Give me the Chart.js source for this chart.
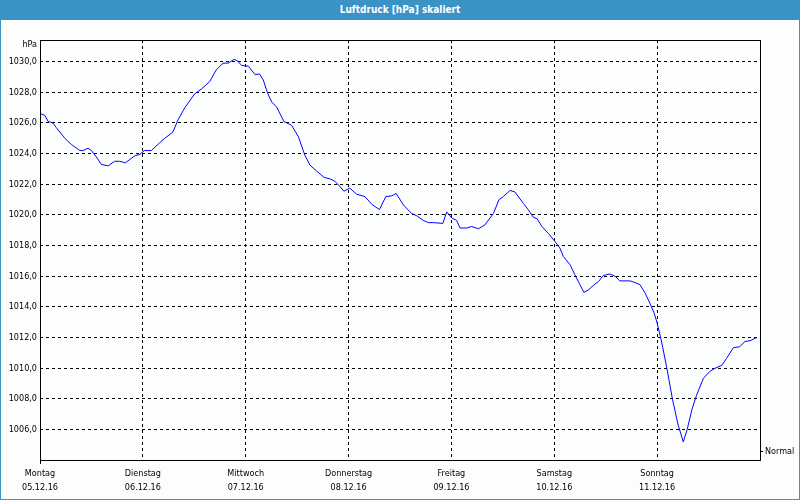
<!DOCTYPE html>
<html>
<head>
<meta charset="utf-8">
<title>Luftdruck [hPa] skaliert</title>
<script src="https://cdn.jsdelivr.net/npm/chart.js@4.4.1/dist/chart.umd.min.js"></script>
<style>
  html, body { margin: 0; padding: 0; background: #fcfefe; }
  #frame { position: relative; width: 800px; height: 500px; overflow: hidden; background: #fcfefe; }
  #pressureChart { position: absolute; left: 0; top: 0; }
  #titleBar {
    position: absolute; left: 0; top: 0; width: 800px; height: 20px;
    background: #3b92c5;
  }
  #titleText {
    position: absolute; left: 0; top: 4px; width: 800px; text-align: center;
    color: #fff; line-height: 12px;
    font: bold 10px "DejaVu Sans Condensed", "DejaVu Sans", sans-serif;
  }
  #edge {
    position: absolute; left: 0; top: 0; width: 800px; height: 500px;
    box-sizing: border-box; border: 1px solid #3b92c5; pointer-events: none;
  }
</style>
</head>
<body>
<div id="frame">
  <canvas id="pressureChart" width="800" height="500"></canvas>
  <div id="titleBar"><div id="titleText">Luftdruck [hPa] skaliert</div></div>
  <div id="edge"></div>
</div>
<script>
// --- Data (hours since Monday 00:00, pressure in hPa) ---
const hours = [
  0.2, 1.1, 1.9, 3.0, 3.8, 5.8, 7.3, 9.3, 10.0, 11.2, 12.0, 13.1, 14.3, 15.9,
  17.4, 18.6, 19.9, 22.1, 23.3, 24.4, 26.0, 27.9, 29.1, 31.0, 32.2, 33.8, 36.1,
  37.6, 39.6, 41.1, 42.7, 43.9, 45.3, 46.0, 47.1, 48.6, 50.2, 51.2, 52.1, 53.1,
  54.1, 55.2, 56.9, 58.7, 60.3, 61.8, 63.0, 64.6, 66.3, 67.7, 68.8, 70.0, 70.9,
  72.3, 73.9, 75.8, 77.4, 79.2, 80.7, 82.1, 83.1, 84.8, 86.7, 87.9, 89.4, 90.6,
  91.8, 94.0, 94.9, 96.1, 97.2, 98.0, 99.6, 100.7, 102.3, 103.8, 105.8, 107.1,
  108.1, 109.7, 110.8, 112.8, 113.9, 115.1, 116.0, 117.1, 118.6, 120.2, 121.3,
  122.1, 123.7, 124.8, 126.0, 126.9, 127.9, 129.5, 130.3, 131.4, 133.0, 134.2,
  135.3, 137.7, 138.8, 140.0, 141.2, 142.3, 143.3, 144.0, 145.1, 146.2, 147.6,
  148.9, 150.1, 151.0, 152.1, 153.2, 154.8, 156.3, 157.5, 159.1, 160.2, 161.8,
  163.2, 164.5, 165.7, 167.2
];
const pressure = [
  1026.6, 1026.5, 1026.1, 1026.0, 1025.7, 1025.0, 1024.6, 1024.2, 1024.2, 1024.35, 1024.2, 1023.8, 1023.3, 1023.2,
  1023.5, 1023.5, 1023.4, 1023.85, 1023.95, 1024.2, 1024.2, 1024.7, 1025.0, 1025.4, 1026.2, 1027.0, 1027.9,
  1028.2, 1028.7, 1029.45, 1029.9, 1029.9, 1030.15, 1030.05, 1029.75, 1029.7, 1029.15, 1029.2, 1028.8, 1027.95,
  1027.35, 1027.05, 1026.1, 1025.85, 1025.1, 1023.9, 1023.25, 1022.85, 1022.45, 1022.35, 1022.2, 1021.85, 1021.55,
  1021.75, 1021.35, 1021.2, 1020.7, 1020.35, 1021.2, 1021.25, 1021.4, 1020.65, 1020.1, 1019.95, 1019.65, 1019.5,
  1019.5, 1019.45, 1020.2, 1019.8, 1019.65, 1019.15, 1019.15, 1019.25, 1019.1, 1019.35, 1020.1, 1021.0,
  1021.2, 1021.6, 1021.5, 1020.75, 1020.35, 1019.85, 1019.75, 1019.25, 1018.8, 1018.25, 1017.85,
  1017.3, 1016.75, 1016.1, 1015.45, 1014.95, 1015.1, 1015.5, 1015.65, 1016.05, 1016.15, 1016.0,
  1015.7, 1015.7, 1015.6, 1015.45, 1014.9, 1014.25, 1013.6, 1012.95, 1011.65, 1010.1, 1007.95,
  1006.3, 1005.2, 1006.0, 1007.3, 1008.25, 1009.35, 1009.8, 1010.0, 1010.2, 1010.65, 1011.35,
  1011.4, 1011.75, 1011.8, 1012.0
];

// --- Axis labels ---
const dayHours = [0, 24, 48, 72, 96, 120, 144];
const dayNames = ["Montag", "Dienstag", "Mittwoch", "Donnerstag", "Freitag", "Samstag", "Sonntag"];
const dayDates = ["05.12.16", "06.12.16", "07.12.16", "08.12.16", "09.12.16", "10.12.16", "11.12.16"];
const yTicks = [1006, 1008, 1010, 1012, 1014, 1016, 1018, 1020, 1022, 1024, 1026, 1028, 1030];
const yUnit = "hPa";
const normalLevel = [1004.55];
const normalLabel = "Normal";

const Y_MIN = 1004.02;
const Y_MAX = 1031.41;
const FONT = '"DejaVu Sans Condensed", "DejaVu Sans", sans-serif';

// --- Frame + unit label ---
const framePlugin = {
  id: "frame",
  afterDraw(chart) {
    const { ctx, chartArea: a } = chart;
    ctx.save();
    ctx.strokeStyle = "#000";
    ctx.lineWidth = 1;
    ctx.strokeRect(a.left + 0.5, a.top + 0.5, a.right - a.left, a.bottom - a.top);
    // small tick under the first day
    ctx.beginPath();
    ctx.moveTo(a.left + 0.5, a.bottom);
    ctx.lineTo(a.left + 0.5, a.bottom + 4);
    ctx.stroke();
    ctx.fillStyle = "#000";
    ctx.font = "9px " + FONT;
    ctx.textAlign = "right";
    ctx.textBaseline = "middle";
    ctx.fillText(yUnit, a.left - 3, a.top + 5);
    ctx.restore();
  }
};

Chart.defaults.color = "#000";
Chart.defaults.font.family = FONT;

const points = hours.map((h, i) => ({ x: h, y: pressure[i] }));

new Chart(document.getElementById("pressureChart"), {
  type: "line",
  data: {
    datasets: [
      {
        data: points,
        borderColor: "#0000ff",
        borderWidth: 1,
        pointRadius: 0,
        tension: 0,
        fill: false
      }
    ]
  },
  options: {
    responsive: false,
    animation: false,
    layout: { padding: { top: 40, left: 0, right: 0, bottom: 0 } },
    plugins: { legend: { display: false }, tooltip: { enabled: false } },
    scales: {
      x: {
        type: "linear",
        min: 0,
        max: 168,
        afterBuildTicks: (s) => { s.ticks = dayHours.map((v) => ({ value: v })); },
        afterFit: (s) => { s.height = 40; },
        ticks: {
          autoSkip: false,
          maxRotation: 0,
          padding: 7,
          font: { size: 9, lineHeight: "14px" },
          callback: (v) => {
            const i = dayHours.indexOf(v);
            return i < 0 ? "" : [dayNames[i], dayDates[i]];
          }
        },
        grid: { color: "#000", lineWidth: 1, drawTicks: false },
        border: { display: false, dash: [3, 3] }
      },
      y: {
        position: "left",
        min: Y_MIN,
        max: Y_MAX,
        afterBuildTicks: (s) => { s.ticks = yTicks.map((v) => ({ value: v })); },
        afterFit: (s) => { s.width = 40; },
        ticks: {
          padding: 3,
          font: { size: 9 },
          callback: (v) => v.toFixed(1).replace(".", ",")
        },
        grid: { color: "#000", lineWidth: 1, drawTicks: false },
        border: { display: false, dash: [3, 3] }
      },
      yNormal: {
        position: "right",
        min: Y_MIN,
        max: Y_MAX,
        afterBuildTicks: (s) => { s.ticks = normalLevel.map((v) => ({ value: v })); },
        afterFit: (s) => { s.width = 40; },
        ticks: {
          padding: 2,
          font: { size: 9 },
          callback: () => normalLabel
        },
        grid: {
          drawOnChartArea: false,
          drawTicks: true,
          tickLength: 3,
          tickColor: "#000",
          tickBorderDash: []
        },
        border: { display: false }
      }
    }
  },
  plugins: [framePlugin]
});
</script>
</body>
</html>
